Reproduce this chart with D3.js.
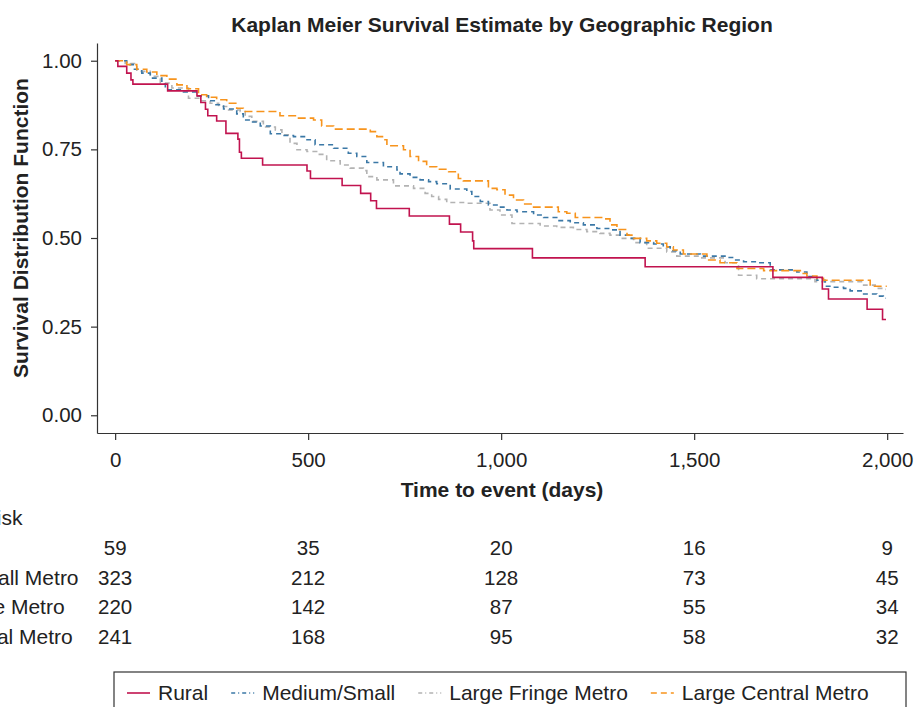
<!DOCTYPE html>
<html>
<head>
<meta charset="utf-8">
<script src="https://d3js.org/d3.v7.min.js"></script>
<style>
  body { margin: 0; background: #fff; }
  svg text { font-family: "Liberation Sans", Arial, Helvetica, sans-serif; fill: #222; }
  .axis path, .axis line { stroke: #333; stroke-width: 1.2; }
  .axis text { font-size: 20.5px; fill: #222; }
</style>
</head>
<body>
<div id="chart"></div>
<script>
// survival steps: [days, survival]
var rural = [[0,1],[7,0.984],[30,0.965],[41,0.946],[46,0.934],[136,0.915],[212,0.901],[222,0.882],[234,0.863],
  [240,0.845],[263,0.830],[287,0.795],[318,0.779],[322,0.742],[327,0.725],[382,0.706],[497,0.689],[506,0.668],
  [588,0.648],[636,0.626],[662,0.605],[677,0.583],[762,0.562],[866,0.539],[895,0.517],[926,0.492],[929,0.470],
  [1081,0.444],[1373,0.419],[1704,0.389],[1832,0.356],[1848,0.328],[1948,0.299],[1988,0.270],[1997,0.270]];

var mediumSmall = [[0,1],[30,0.989],[47,0.976],[69,0.965],[91,0.951],[121,0.934],[130,0.918],[177,0.912],
  [212,0.901],[242,0.887],[259,0.876],[281,0.864],[315,0.850],[332,0.833],[350,0.827],[376,0.816],[402,0.794],
  [432,0.789],[462,0.786],[497,0.777],[518,0.763],[566,0.753],[604,0.739],[626,0.730],[652,0.713],[695,0.701],
  [730,0.692],[738,0.681],[764,0.671],[790,0.664],[812,0.659],[833,0.653],[868,0.638],[911,0.631],[924,0.617],
  [946,0.603],[967,0.593],[993,0.587],[1015,0.579],[1041,0.574],[1084,0.565],[1110,0.558],[1144,0.549],
  [1179,0.543],[1213,0.537],[1248,0.527],[1287,0.523],[1308,0.508],[1334,0.499],[1360,0.487],[1395,0.483],
  [1420,0.475],[1438,0.464],[1464,0.455],[1516,0.449],[1585,0.445],[1602,0.438],[1628,0.433],[1662,0.430],
  [1697,0.410],[1766,0.404],[1792,0.391],[1818,0.381],[1839,0.364],[1861,0.361],[1887,0.358],[1904,0.351],
  [1939,0.342],[1973,0.336],[1990,0.330],[1997,0.330]];

var largeFringe = [[0,1],[26,0.992],[56,0.970],[91,0.956],[117,0.937],[147,0.923],[190,0.894],[220,0.887],
  [246,0.880],[268,0.871],[294,0.861],[324,0.857],[337,0.843],[354,0.829],[384,0.813],[415,0.805],[432,0.791],
  [453,0.767],[471,0.749],[497,0.744],[522,0.736],[548,0.718],[583,0.706],[609,0.697],[643,0.690],[652,0.673],
  [678,0.664],[721,0.647],[773,0.640],[803,0.626],[820,0.617],[838,0.609],[859,0.600],[911,0.598],[971,0.579],
  [997,0.565],[1028,0.541],[1101,0.534],[1144,0.530],[1187,0.524],[1222,0.518],[1256,0.513],[1282,0.508],
  [1308,0.499],[1343,0.487],[1377,0.471],[1429,0.461],[1455,0.449],[1516,0.444],[1580,0.430],[1615,0.395],
  [1662,0.385],[1813,0.377],[1939,0.367],[1969,0.358],[1990,0.355],[1997,0.355]];

var largeCentral = [[0,1],[30,0.989],[56,0.976],[82,0.968],[108,0.958],[134,0.948],[160,0.932],[186,0.921],
  [216,0.904],[237,0.897],[263,0.890],[289,0.880],[315,0.866],[332,0.857],[427,0.845],[471,0.838],[514,0.833],
  [535,0.816],[566,0.807],[661,0.800],[678,0.786],[699,0.777],[704,0.760],[747,0.749],[764,0.730],[786,0.716],
  [807,0.701],[833,0.694],[864,0.687],[889,0.668],[902,0.661],[967,0.640],[989,0.636],[1010,0.621],[1032,0.607],
  [1058,0.596],[1084,0.587],[1148,0.574],[1170,0.570],[1192,0.558],[1265,0.554],[1282,0.537],[1300,0.524],
  [1326,0.508],[1343,0.499],[1377,0.492],[1403,0.485],[1429,0.475],[1446,0.466],[1472,0.455],[1533,0.438],
  [1567,0.430],[1611,0.414],[1680,0.408],[1775,0.400],[1792,0.393],[1818,0.386],[1835,0.381],[1956,0.364],
  [1999,0.364]];

var groupNames = ["Rural", "Medium/Small", "Large Fringe", "Large Central"];
var tableNames = ["Rural", "Medium/Small Metro", "Large Fringe Metro", "Large Central Metro"];
var legendNames = ["Rural", "Medium/Small", "Large Fringe Metro", "Large Central Metro"];

var xTicks = [0, 500, 1000, 1500, 2000];
var yTicks = [0, 0.25, 0.5, 0.75, 1];

// number at risk at each x tick
var riskRural = [59, 35, 20, 16, 9];
var riskMediumSmall = [323, 212, 128, 73, 45];
var riskLargeFringe = [220, 142, 87, 55, 34];
var riskLargeCentral = [241, 168, 95, 58, 32];

var W = 914, H = 707;
var colors = ["#c1134f", "#3b78a6", "#b3b3b3", "#f7941d"];
var dashes = [null, "5,4", "5,4", "8,4"];
var legendDashes = [null, "4,3,1,3", "4,3,1,3", "6,4"];

var series = [rural, mediumSmall, largeFringe, largeCentral];
var risks = [riskRural, riskMediumSmall, riskLargeFringe, riskLargeCentral];

var svg = d3.select("#chart").append("svg")
    .attr("width", W)
    .attr("height", H);

var x = d3.scaleLinear().domain([-47, 2041]).range([97, 903]);
var y = d3.scaleLinear().domain([-0.05, 1.05]).range([433, 43]);

// title
svg.append("text")
    .attr("x", 502).attr("y", 32)
    .attr("text-anchor", "middle")
    .style("font-size", "21px").style("font-weight", "bold")
    .text("Kaplan Meier Survival Estimate by Geographic Region");

// axes
svg.append("g")
    .attr("class", "axis")
    .attr("transform", "translate(97,0)")
    .call(d3.axisLeft(y).tickValues(yTicks).tickFormat(d3.format(".2f"))
        .tickSize(6).tickSizeOuter(0).tickPadding(9));

svg.append("g")
    .attr("class", "axis")
    .attr("transform", "translate(0,433)")
    .call(d3.axisBottom(x).tickValues(xTicks).tickFormat(d3.format(","))
        .tickSize(7).tickSizeOuter(0).tickPadding(12));

svg.selectAll(".axis .domain").attr("fill", "none");

// axis titles
svg.append("text")
    .attr("x", 502).attr("y", 497)
    .attr("text-anchor", "middle")
    .style("font-size", "21px").style("font-weight", "bold")
    .text("Time to event (days)");

svg.append("text")
    .attr("transform", "translate(28,228) rotate(-90)")
    .attr("text-anchor", "middle")
    .style("font-size", "21px").style("font-weight", "bold")
    .text("Survival Distribution Function");

// curves
var line = d3.line()
    .curve(d3.curveStepAfter)
    .x(function(d){ return x(d[0]); })
    .y(function(d){ return y(d[1]); });

// draw back to front so rural sits on top
[2, 1, 3, 0].forEach(function(i) {
    svg.append("path")
        .datum(series[i])
        .attr("fill", "none")
        .attr("stroke", colors[i])
        .attr("stroke-width", 1.6)
        .attr("stroke-dasharray", dashes[i])
        .attr("d", line);
});

// number at risk table
var table = svg.append("g");
var labelX = -114;
table.append("text")
    .attr("x", labelX).attr("y", 525)
    .style("font-size", "21px")
    .text("Number at risk");

risks.forEach(function(row, r) {
    var rowY = 555 + r * 29.7;
    table.append("text")
        .attr("x", labelX).attr("y", rowY)
        .style("font-size", "21px")
        .text(tableNames[r]);
    table.selectAll(null)
        .data(row)
        .enter().append("text")
        .attr("x", function(d, i){ return x(xTicks[i]); })
        .attr("y", rowY)
        .attr("text-anchor", "middle")
        .style("font-size", "20.5px")
        .text(function(d){ return d; });
});

// legend
var legend = svg.append("g");
legend.append("rect")
    .attr("x", 114).attr("y", 672)
    .attr("width", 792).attr("height", 60)
    .attr("fill", "none")
    .attr("stroke", "#333")
    .attr("stroke-width", 1.2);

var lx = 127;
legendNames.forEach(function(name, i) {
    legend.append("line")
        .attr("x1", lx).attr("x2", lx + 23)
        .attr("y1", 693).attr("y2", 693)
        .attr("stroke", colors[i])
        .attr("stroke-width", 1.6)
        .attr("stroke-dasharray", legendDashes[i]);
    var t = legend.append("text")
        .attr("x", lx + 31).attr("y", 700)
        .style("font-size", "21px")
        .text(name);
    lx += 31 + t.node().getComputedTextLength() + 23;
});
</script>
</body>
</html>
